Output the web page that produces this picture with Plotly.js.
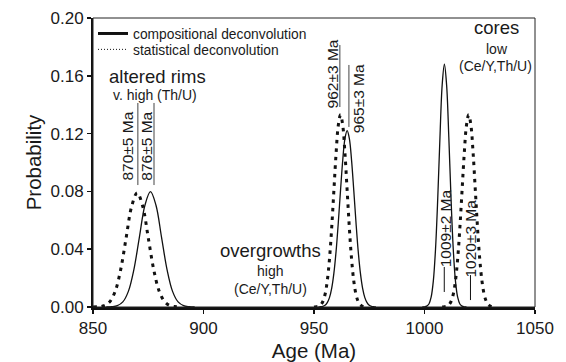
<!DOCTYPE html>
<html>
<head>
<meta charset="utf-8">
<script src="https://cdn.plot.ly/plotly-3.0.1.min.js"></script>
<style>html,body{margin:0;padding:0;background:#fff;}#chart{width:566px;height:362px;}</style>
</head>
<body>
<div id="chart"></div>
<script>
// Compositional deconvolution (solid)
const compRimsAge = [856, 858.5, 861, 863.5, 866, 868.5, 871, 873.5, 876, 878.5, 881, 883.5, 886, 888.5, 891, 893.5, 896];
const compRimsProb = [0.0000, 0.0002, 0.0009, 0.0035, 0.0108, 0.0259, 0.0484, 0.0704, 0.0798, 0.0704, 0.0484, 0.0259, 0.0108, 0.0035, 0.0009, 0.0002, 0.0000];
const compOverAge = [952, 953, 954, 955, 956, 957, 958, 959, 960, 961, 962, 963, 964, 965, 966, 967, 968, 969, 970, 971, 972, 973, 974, 975, 976, 977, 978];
const compOverProb = [0.0000, 0.0002, 0.0005, 0.0012, 0.0030, 0.0065, 0.0129, 0.0234, 0.0387, 0.0585, 0.0807, 0.1015, 0.1165, 0.1220, 0.1165, 0.1015, 0.0807, 0.0585, 0.0387, 0.0234, 0.0129, 0.0065, 0.0030, 0.0012, 0.0005, 0.0002, 0.0000];
const compCoreAge = [999, 1000, 1001, 1002, 1003, 1004, 1005, 1006, 1007, 1008, 1009, 1010, 1011, 1012, 1013, 1014, 1015, 1016, 1017, 1018, 1019];
const compCoreProb = [0.0000, 0.0001, 0.0006, 0.0021, 0.0068, 0.0181, 0.0404, 0.0754, 0.1177, 0.1537, 0.1680, 0.1537, 0.1177, 0.0754, 0.0404, 0.0181, 0.0068, 0.0021, 0.0006, 0.0001, 0.0000];

// Statistical deconvolution (dotted)
const statRimsAge = [850, 852.5, 855, 857.5, 860, 862.5, 865, 867.5, 870, 872.5, 875, 877.5, 880, 882.5, 885, 887.5, 890];
const statRimsProb = [0.0000, 0.0002, 0.0009, 0.0035, 0.0107, 0.0257, 0.0479, 0.0697, 0.0790, 0.0697, 0.0479, 0.0257, 0.0107, 0.0035, 0.0009, 0.0002, 0.0000];
const statOverAge = [950, 951, 952, 953, 954, 955, 956, 957, 958, 959, 960, 961, 962, 963, 964, 965, 966, 967, 968, 969, 970, 971, 972, 973, 974];
const statOverProb = [0.0000, 0.0002, 0.0005, 0.0015, 0.0038, 0.0087, 0.0180, 0.0332, 0.0547, 0.0807, 0.1065, 0.1258, 0.1330, 0.1258, 0.1065, 0.0807, 0.0547, 0.0332, 0.0180, 0.0087, 0.0038, 0.0015, 0.0005, 0.0002, 0.0000];
const statCoreAge = [1008, 1009, 1010, 1011, 1012, 1013, 1014, 1015, 1016, 1017, 1018, 1019, 1020, 1021, 1022, 1023, 1024, 1025, 1026, 1027, 1028, 1029, 1030, 1031, 1032];
const statCoreProb = [0.0000, 0.0002, 0.0005, 0.0015, 0.0038, 0.0087, 0.0180, 0.0332, 0.0547, 0.0807, 0.1065, 0.1258, 0.1330, 0.1258, 0.1065, 0.0807, 0.0547, 0.0332, 0.0180, 0.0087, 0.0038, 0.0015, 0.0005, 0.0002, 0.0000];

const xTicks = [850, 900, 950, 1000, 1050];
const yTicks = [0.00, 0.04, 0.08, 0.12, 0.16, 0.20];
const seriesNames = ['compositional deconvolution', 'statistical deconvolution'];

const FONT = '"Liberation Sans", Arial, Helvetica, sans-serif';
const INK = '#1a1a1a';

const solid = {color: '#111', width: 1.3, shape: 'spline', smoothing: 1};
const dotted = {color: '#111', width: 3, dash: '3.5px,5px', shape: 'spline', smoothing: 1};

const traces = [
  {x: compRimsAge, y: compRimsProb, mode: 'lines', line: solid, showlegend: false, hoverinfo: 'skip'},
  {x: compOverAge, y: compOverProb, mode: 'lines', line: solid, showlegend: false, hoverinfo: 'skip'},
  {x: compCoreAge, y: compCoreProb, mode: 'lines', line: solid, showlegend: false, hoverinfo: 'skip'},
  {x: statRimsAge, y: statRimsProb, mode: 'lines', line: dotted, showlegend: false, hoverinfo: 'skip'},
  {x: statOverAge, y: statOverProb, mode: 'lines', line: dotted, showlegend: false, hoverinfo: 'skip'},
  {x: statCoreAge, y: statCoreProb, mode: 'lines', line: dotted, showlegend: false, hoverinfo: 'skip'},
  // legend entries
  {x: [null], y: [null], mode: 'lines', name: seriesNames[0], legend: 'legend', line: {color: '#111', width: 3}},
  {x: [null], y: [null], mode: 'lines', name: seriesNames[1], legend: 'legend2', line: {color: '#111', width: 1, dash: '1px,2px'}}
];

function lab(text, x, y, size, angle) {
  return {text: text, x: x, y: y, xref: 'x', yref: 'y', showarrow: false,
          xanchor: 'center', yanchor: 'middle', textangle: angle || 0,
          font: {family: FONT, size: size, color: INK}};
}
function seg(x0, y0, x1, y1, color) {
  return {type: 'line', xref: 'x', yref: 'y', x0: x0, y0: y0, x1: x1, y1: y1,
          line: {color: color || '#444', width: 1}};
}

const annotations = [
  lab('cores', 1032.6, 0.1935, 18.5),
  lab('low', 1032.6, 0.1785, 14),
  lab('(Ce/Y,Th/U)', 1032.1, 0.1668, 14),
  lab('altered rims', 879.0, 0.1596, 18.5),
  lab('v. high (Th/U)', 878.0, 0.147, 14),
  lab('overgrowths', 930.3, 0.0388, 18.5),
  lab('high', 930.3, 0.0248, 14),
  lab('(Ce/Y,Th/U)', 930.3, 0.0128, 14),
  lab('870±5 Ma', 865.6, 0.1114, 15.5, -90),
  lab('876±5 Ma', 873.8, 0.1114, 15.5, -90),
  lab('962±3 Ma', 958.3, 0.1612, 15.5, -90),
  lab('965±3 Ma', 969.9, 0.1445, 15.5, -90),
  lab('1009±2 Ma', 1009.3, 0.0545, 15.5, -90),
  lab('1020±3 Ma', 1020.7, 0.0475, 15.5, -90)
];

const shapes = [
  {type: 'rect', xref: 'paper', yref: 'paper', x0: 0, y0: 0, x1: 1, y1: 1, line: {color: '#222', width: 1}},
  seg(870.3, 0.1412, 870.3, 0.0844),
  seg(877.6, 0.1412, 877.6, 0.0844),
  seg(961.7, 0.1813, 961.7, 0.1384),
  seg(965.8, 0.1675, 965.8, 0.1246),
  seg(1008.95, 0.0277, 1008.95, 0.0104, '#111'),
  seg(1020.8, 0.0221, 1020.8, 0.0048, '#111')
];

const legendStyle = {xanchor: 'left', yanchor: 'top', bgcolor: 'rgba(0,0,0,0)',
                     font: {family: FONT, size: 13.8, color: INK}, itemwidth: 30};

const layout = {
  width: 566, height: 362,
  margin: {l: 93, r: 31, t: 18, b: 55},
  paper_bgcolor: '#fff', plot_bgcolor: '#fff',
  font: {family: FONT, color: INK},
  showlegend: true,
  legend: Object.assign({x: 0.0, y: 1.0}, legendStyle),
  legend2: Object.assign({x: 0.0, y: 0.945}, legendStyle),
  xaxis: {range: [850, 1050], tickvals: xTicks, ticktext: xTicks.map(String),
          ticks: 'outside', ticklen: 4, tickwidth: 1.5, tickcolor: '#111',
          showline: true, linecolor: '#111', linewidth: 3, showgrid: false, zeroline: false,
          tickfont: {family: FONT, size: 17, color: INK}, automargin: false,
          title: {text: 'Age (Ma)', font: {family: FONT, size: 20.5, color: INK}}},
  yaxis: {range: [0, 0.2], tickvals: yTicks, ticktext: yTicks.map(v => v.toFixed(2)),
          ticks: 'outside', ticklen: 4, tickwidth: 1.5, tickcolor: '#111',
          showline: true, linecolor: '#111', linewidth: 2, showgrid: false, zeroline: false,
          tickfont: {family: FONT, size: 17, color: INK}, automargin: false,
          title: {text: 'Probability', font: {family: FONT, size: 20.5, color: INK}}},
  annotations: annotations,
  shapes: shapes
};

Plotly.newPlot('chart', traces, layout, {staticPlot: true, displayModeBar: false});
</script>
</body>
</html>
